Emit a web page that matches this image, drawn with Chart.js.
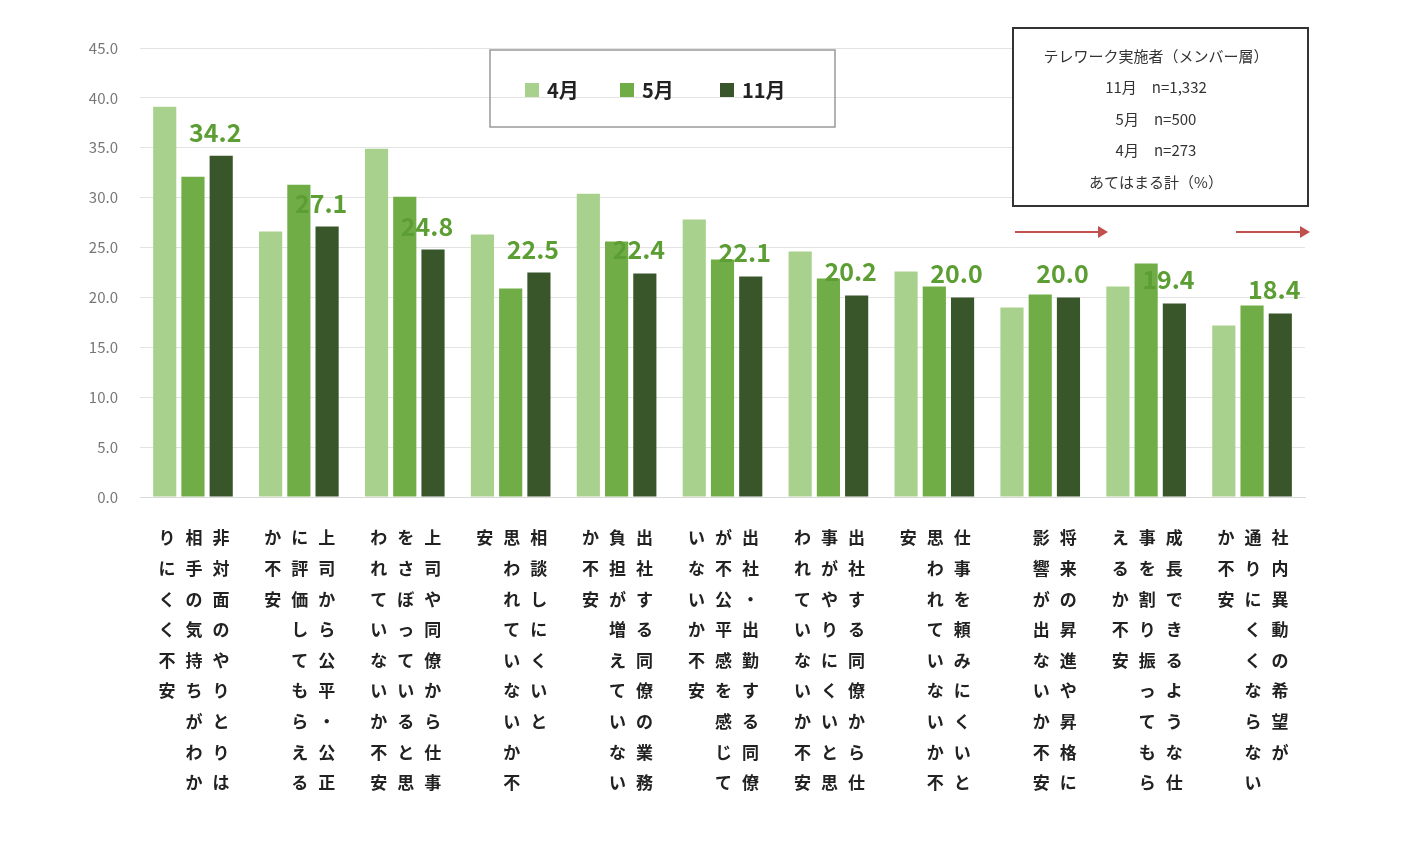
<!DOCTYPE html>
<html><head><meta charset="utf-8">
<script src="https://cdn.jsdelivr.net/npm/chart.js@4"></script>
<style>body{margin:0;background:#fff}#wrap{width:1426px;height:864px}</style>
</head><body><div id="wrap"><canvas id="c"></canvas></div>
<script>
const categories = [
    ['非対面のやりとりは', '相手の気持ちがわか', 'りにくく不安'],
    ['上司から公平・公正', 'に評価してもらえる', 'か不安'],
    ['上司や同僚から仕事', 'をさぼっていると思', 'われていないか不安'],
    ['相談しにくいと', '思われていないか不', '安'],
    ['出社する同僚の業務', '負担が増えていない', 'か不安'],
    ['出社・出勤する同僚', 'が不公平感を感じて', 'いないか不安'],
    ['出社する同僚から仕', '事がやりにくいと思', 'われていないか不安'],
    ['仕事を頼みにくいと', '思われていないか不', '安'],
    ['将来の昇進や昇格に', '影響が出ないか不安'],
    ['成長できるような仕', '事を割り振ってもら', 'えるか不安'],
    ['社内異動の希望が', '通りにくくならない', 'か不安'],
];
const april = [39.1, 26.6, 34.9, 26.3, 30.4, 27.8, 24.6, 22.6, 19.0, 21.1, 17.2];
const may = [32.1, 31.3, 30.1, 20.9, 25.6, 23.8, 21.9, 21.1, 20.3, 23.4, 19.2];
const november = [34.2, 27.1, 24.8, 22.5, 22.4, 22.1, 20.2, 20.0, 20.0, 19.4, 18.4];
const seriesNames = ['4月', '5月', '11月'];
const infoLines = ['テレワーク実施者（メンバー層）', '11月　n=1,332', '5月　n=500', '4月　n=273', 'あてはまる計（%）'];

const colors = ['#a9d18e', '#70ad47', '#38562a'];
const FONT = '"Noto Sans CJK JP", "Noto Sans", sans-serif';

const decorations = {
    id: 'decorations',
    afterDatasetsDraw(chart) {
        const ctx = chart.ctx;
        const x = chart.scales.x;
        ctx.save();
        // value labels for November
        const meta = chart.getDatasetMeta(2);
        ctx.fillStyle = '#5c9e33';
        ctx.font = 'bold 25px ' + FONT;
        ctx.textAlign = 'center';
        ctx.textBaseline = 'alphabetic';
        meta.data.forEach((bar, i) => {
            ctx.fillText(november[i].toFixed(1), bar.x - 6, bar.y - 14);
        });
        // vertical category labels
        ctx.fillStyle = '#222';
        ctx.font = 'bold 17px ' + FONT;
        ctx.textBaseline = 'middle';
        categories.forEach((cols, i) => {
            const cx = x.getPixelForValue(i) + 1;
            cols.forEach((col, j) => {
                const colX = cx + 27 - j * 27;
                [...col].forEach((ch, k) => {
                    ctx.fillText(ch, colX, 538 + k * 30.6);
                });
            });
        });
        // legend box
        ctx.strokeStyle = '#999';
        ctx.lineWidth = 1.5;
        ctx.strokeRect(490, 50, 345, 77);
        ctx.font = 'bold 20px ' + FONT;
        ctx.textAlign = 'left';
        const lx = [525, 620, 720];
        seriesNames.forEach((n, i) => {
            ctx.fillStyle = colors[i];
            ctx.fillRect(lx[i], 83, 14, 14);
            ctx.fillStyle = '#222';
            ctx.fillText(n, lx[i] + 22, 90);
        });
        // info box
        ctx.strokeStyle = '#333';
        ctx.lineWidth = 2;
        ctx.fillStyle = '#fff';
        ctx.fillRect(1013, 28, 295, 178);
        ctx.strokeRect(1013, 28, 295, 178);
        ctx.fillStyle = '#333';
        ctx.font = '15px ' + FONT;
        ctx.textAlign = 'center';
        infoLines.forEach((t, i) => ctx.fillText(t, 1156, 56 + i * 31.5));
        // arrows
        ctx.strokeStyle = '#c0504d';
        ctx.fillStyle = '#c0504d';
        ctx.lineWidth = 2;
        [[1015, 1108], [1236, 1310]].forEach(([a, b]) => {
            ctx.beginPath();
            ctx.moveTo(a, 232);
            ctx.lineTo(b - 8, 232);
            ctx.stroke();
            ctx.beginPath();
            ctx.moveTo(b, 232);
            ctx.lineTo(b - 10, 226);
            ctx.lineTo(b - 10, 238);
            ctx.fill();
        });
        ctx.restore();
    },
};

new Chart(document.getElementById('c'), {
    type: 'bar',
    data: {
        labels: categories.map(c => c.join('')),
        datasets: [april, may, november].map((d, i) => ({
            label: seriesNames[i],
            data: d,
            backgroundColor: colors[i],
            barPercentage: 0.82,
            categoryPercentage: 0.8,
        })),
    },
    options: {
        responsive: true,
        maintainAspectRatio: false,
        animation: false,
        layout: { padding: { top: 48, right: 121, bottom: 367, left: 0 } },
        plugins: { legend: { display: false }, tooltip: { enabled: false } },
        scales: {
            x: {
                ticks: { display: false },
                grid: { display: false },
                border: { color: '#d9d9d9' },
                afterFit: s => { s.height = 0; },
            },
            y: {
                min: 0,
                max: 45,
                ticks: {
                    stepSize: 5,
                    padding: 22,
                    color: '#777',
                    font: { size: 15, family: FONT },
                    callback: v => v.toFixed(1),
                },
                grid: { color: '#e3e3e3', drawTicks: false },
                border: { display: false },
                afterFit: s => { s.width = 140; },
            },
        },
    },
    plugins: [decorations],
});
</script></body></html>
